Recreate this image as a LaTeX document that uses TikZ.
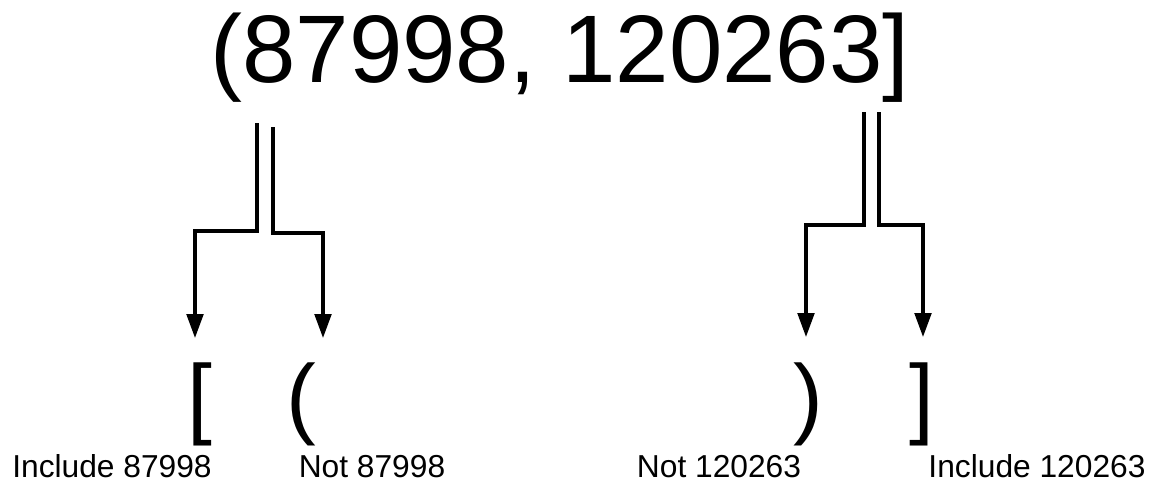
\documentclass[tikz,border=0pt]{standalone}
\usepackage{fontspec}
\setmainfont{Liberation Sans}
\usetikzlibrary{arrows.meta}
\begin{document}
\begin{tikzpicture}[x=0.75pt,y=-0.75pt,
  txt/.style={inner sep=0pt,outer sep=0pt,anchor=base},
  titletext/.style={txt,font=\fontsize{72}{86}\selectfont},
  bracketsym/.style={txt,font=\fontsize{67}{80}\selectfont},
  labeltext/.style={txt,font=\fontsize{23.8}{28}\selectfont},
  conn/.style={line width=2.4pt,-{Triangle[length=18pt,width=12.5pt]}}]
\useasboundingbox (0,0) rectangle (1156,483);

% interval written at the top
\node[titletext] (interval) at (560,82) {(87998, 120263]};

% bracket forms of each end point
\node[bracketsym] (lincl) at (200,427) {[};
\node[bracketsym] (lexcl) at (301,427) {(};
\node[bracketsym] (rexcl) at (808,427) {)};
\node[bracketsym] (rincl) at (922,427) {]};

% captions
\node[labeltext] (cap1) at (112,477) {Include 87998};
\node[labeltext] (cap2) at (372,477) {Not 87998};
\node[labeltext] (cap3) at (719,477) {Not 120263};
\node[labeltext] (cap4) at (1037,477) {Include 120263};

% connector start points under the interval
\coordinate (s1) at (257,123);
\coordinate (s2) at (273,127);
\coordinate (s3) at (864,112);
\coordinate (s4) at (879,112);

% arrow tips above the bracket symbols
\coordinate (t1) at (195,338);
\coordinate (t2) at (323,338);
\coordinate (t3) at (806,337);
\coordinate (t4) at (923,337);

\draw[conn] (s1) |- (195,231) -- (t1);
\draw[conn] (s2) |- (323,233) -- (t2);
\draw[conn] (s3) |- (806,225) -- (t3);
\draw[conn] (s4) |- (923,225) -- (t4);
\end{tikzpicture}
\end{document}
